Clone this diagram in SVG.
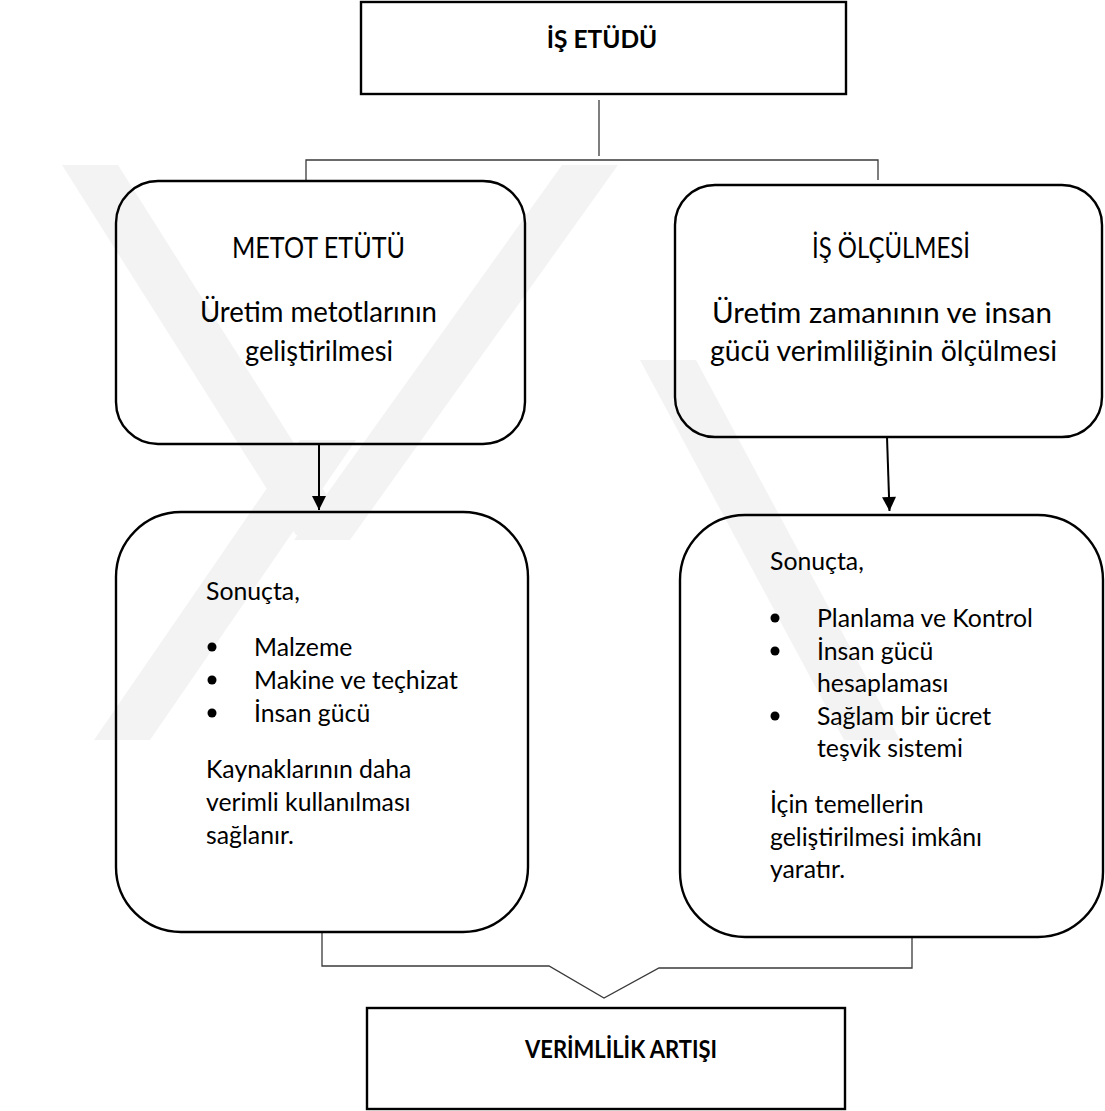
<svg xmlns="http://www.w3.org/2000/svg" width="1105" height="1111" viewBox="0 0 1105 1111">
  <style>
    .box { fill: none; stroke: #000; stroke-width: 2.4; }
    .wire { fill: none; stroke: #3a3a3a; stroke-width: 1.3; }
    .arrow { fill: none; stroke: #000; stroke-width: 2; }
    .t { font-family: Lato, "Liberation Sans", sans-serif; fill: #000; }
    .head { font-size: 24.5px; font-weight: bold; text-anchor: middle; }
    .big { font-size: 28px; text-anchor: middle; }
    .body { font-size: 24.8px; }
    .wm { fill: #f3f3f3; }
  </style>
  <defs>
    <marker id="tip" viewBox="0 0 10 10" refX="10" refY="5" markerUnits="userSpaceOnUse" markerWidth="15" markerHeight="14" orient="auto">
      <path d="M0,0 L10,5 L0,10 z" fill="#000"/>
    </marker>
  </defs>

  <rect width="1105" height="1111" fill="#fff"/>

  <!-- faint background watermark -->
  <g id="watermark">
    <polygon class="wm" points="62,165 118,165 352,535 296,535"/>
    <polygon class="wm" points="562,165 618,165 350,540 294,540"/>
    <polygon class="wm" points="300,440 356,440 150,740 94,740"/>
    <polygon class="wm" points="640,360 696,360 900,740 844,740"/>
  </g>

  <!-- connectors -->
  <g id="connectors">
    <path class="wire" d="M599,100 V156"/>
    <path class="wire" d="M306,180 V160 H878 V180"/>
    <path class="arrow" d="M319,444 V510" marker-end="url(#tip)"/>
    <path class="arrow" d="M887,437 L889.5,511" marker-end="url(#tip)"/>
    <path class="wire" d="M322,932 V966 H549 L604,998 L659,968 H912 V937"/>
  </g>

  <g id="is-etudu">
    <rect class="box" x="361" y="2" width="485" height="92"/>
    <text class="t head" x="602" y="48">İŞ ETÜDÜ</text>
  </g>

  <g id="metot-etutu">
    <rect class="box" x="116" y="181" width="409" height="263" rx="42" ry="42"/>
    <text class="t big" x="318.5" y="258" textLength="173" lengthAdjust="spacingAndGlyphs">METOT ETÜTÜ</text>
    <text class="t big" x="318.5" y="322" textLength="237" lengthAdjust="spacingAndGlyphs">Üretim metotlarının</text>
    <text class="t big" x="319" y="361" textLength="148" lengthAdjust="spacingAndGlyphs">geliştirilmesi</text>
  </g>

  <g id="is-olculmesi">
    <rect class="box" x="675" y="185" width="427" height="252" rx="40" ry="40"/>
    <text class="t big" x="891" y="258" textLength="158" lengthAdjust="spacingAndGlyphs">İŞ ÖLÇÜLMESİ</text>
    <text class="t big" x="882" y="323" textLength="340" lengthAdjust="spacingAndGlyphs">Üretim zamanının ve insan</text>
    <text class="t big" x="883.5" y="361" textLength="347" lengthAdjust="spacingAndGlyphs">gücü verimliliğinin ölçülmesi</text>
  </g>

  <g id="metot-sonuc">
    <rect class="box" x="116" y="512" width="412" height="420" rx="65" ry="65"/>
    <text class="t body" x="206" y="600">Sonuçta,</text>
    <circle cx="212" cy="647" r="4.5"/>
    <text class="t body" x="254" y="656">Malzeme</text>
    <circle cx="212" cy="680" r="4.5"/>
    <text class="t body" x="254" y="689">Makine ve teçhizat</text>
    <circle cx="212" cy="713" r="4.5"/>
    <text class="t body" x="254" y="722">İnsan gücü</text>
    <text class="t body" x="206" y="778">Kaynaklarının daha</text>
    <text class="t body" x="206" y="811">verimli kullanılması</text>
    <text class="t body" x="206" y="844">sağlanır.</text>
  </g>

  <g id="olcum-sonuc">
    <rect class="box" x="680" y="515" width="423" height="422" rx="65" ry="65"/>
    <text class="t body" x="770" y="570">Sonuçta,</text>
    <circle cx="775" cy="618" r="4.5"/>
    <text class="t body" x="817" y="627">Planlama ve Kontrol</text>
    <circle cx="775" cy="651" r="4.5"/>
    <text class="t body" x="817" y="660">İnsan gücü</text>
    <text class="t body" x="817" y="692">hesaplaması</text>
    <circle cx="775" cy="716" r="4.5"/>
    <text class="t body" x="817" y="725">Sağlam bir ücret</text>
    <text class="t body" x="817" y="757">teşvik sistemi</text>
    <text class="t body" x="770" y="813">İçin temellerin</text>
    <text class="t body" x="770" y="846">geliştirilmesi imkânı</text>
    <text class="t body" x="770" y="878">yaratır.</text>
  </g>

  <g id="verimlilik-artisi">
    <rect class="box" x="367" y="1008" width="478" height="101"/>
    <text class="t head" x="621" y="1058" textLength="192" lengthAdjust="spacingAndGlyphs">VERİMLİLİK ARTIŞI</text>
  </g>
</svg>
